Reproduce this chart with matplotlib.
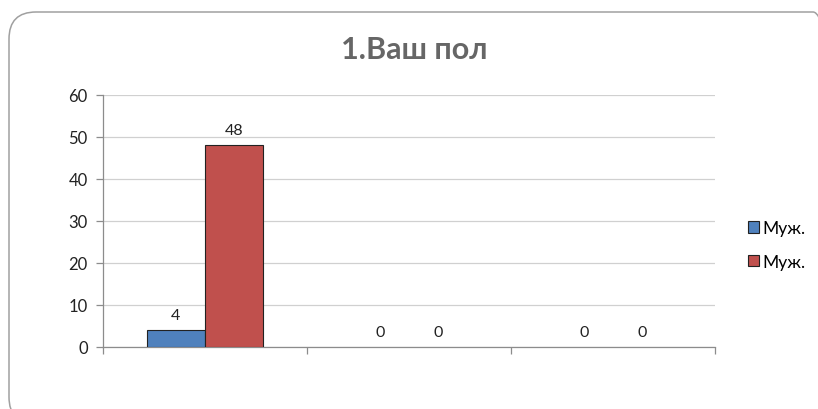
import matplotlib
matplotlib.use("Agg")
import matplotlib.pyplot as plt
from matplotlib.patches import FancyBboxPatch, Patch
import numpy as np

plt.rcParams['font.family'] = ['Lato', 'DejaVu Sans']

title = "1.Ваш пол"
categories = ["", "", ""]
series_names = ["Муж.", "Муж."]
series_a = [4, 0, 0]
series_b = [48, 0, 0]
colors = ["#4F81BD", "#C0504D"]

fig = plt.figure(figsize=(8.18, 4.10), dpi=100)
fig.patch.set_facecolor("white")

# rounded chart border (runs off the right and bottom edges)
frame = FancyBboxPatch((0.09, -0.15), 8.31, 4.12,
                       boxstyle="round,pad=0,rounding_size=0.27",
                       transform=fig.dpi_scale_trans, facecolor="none",
                       edgecolor="#a0a0a0", linewidth=1.1, zorder=-1)
fig.patches.append(frame)

ax = fig.add_axes([103 / 818, 1 - 348 / 410, 612 / 818, 252 / 410])
ax.set_facecolor("none")

x = np.arange(len(categories))
w = 0.285
bars_a = ax.bar(x - w / 2, series_a, w, color=colors[0], edgecolor="#222222",
                linewidth=[0.8 if v else 0 for v in series_a],
                label=series_names[0], zorder=3)
bars_b = ax.bar(x + w / 2, series_b, w, color=colors[1], edgecolor="#222222",
                linewidth=[0.8 if v else 0 for v in series_b],
                label=series_names[1], zorder=3)

for bars, vals in ((bars_a, series_a), (bars_b, series_b)):
    for b, v in zip(bars, vals):
        ax.annotate(str(v), (b.get_x() + b.get_width() / 2, v),
                    xytext=(0, 6), textcoords="offset points",
                    ha="center", va="bottom", fontsize=11.5, color="#222222")

ax.set_xlim(-0.5, len(categories) - 0.5)
ax.set_ylim(0, 60)
ax.set_yticks(range(0, 61, 10))
ax.yaxis.grid(True, color="#d0d0d0", linewidth=0.9, zorder=0)
ax.set_axisbelow(True)

ax.set_xticks(np.arange(len(categories) + 1) - 0.5)
ax.set_xticklabels([])
ax.tick_params(axis="x", direction="out", length=5, color="#8c8c8c", width=0.9)
ax.tick_params(axis="y", direction="out", length=5, color="#8c8c8c", width=0.9,
               labelsize=12, labelcolor="#222222", pad=6)

for side in ("top", "right"):
    ax.spines[side].set_visible(False)
for side in ("left", "bottom"):
    ax.spines[side].set_color("#8c8c8c")
    ax.spines[side].set_linewidth(0.9)

fig.text(0.506, 1 - 50 / 410, title, ha="center", va="center",
         fontsize=22, fontweight="bold", color="#666666")

handles = [Patch(facecolor=colors[0], edgecolor="#222222", linewidth=0.8),
           Patch(facecolor=colors[1], edgecolor="#222222", linewidth=0.8)]
fig.legend(handles, series_names, loc="center left",
           bbox_to_anchor=(741 / 818, 1 - 246 / 410), frameon=False,
           fontsize=12.5, handlelength=0.65, handleheight=0.65,
           handletextpad=0.2, labelspacing=1.0, borderaxespad=0)

fig.savefig("out.png", dpi=100, facecolor="white")
